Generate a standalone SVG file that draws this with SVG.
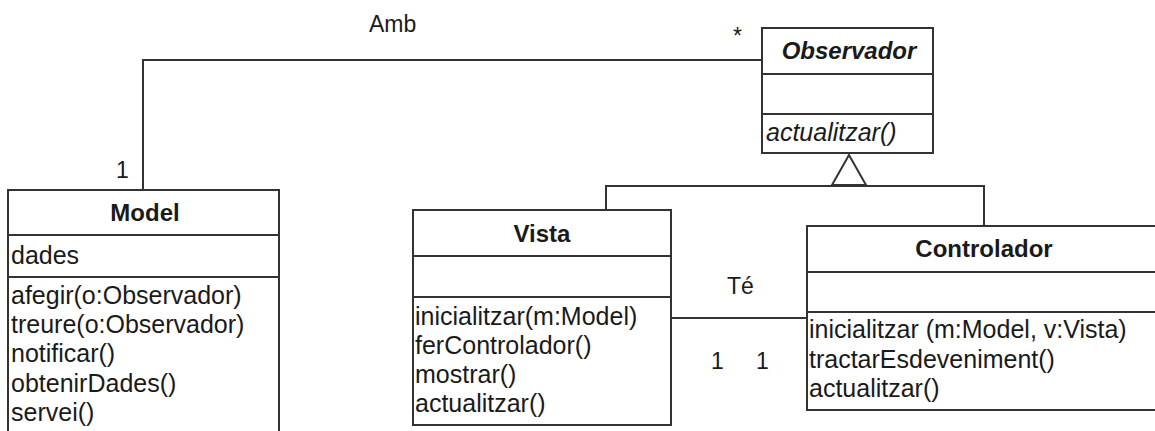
<svg xmlns="http://www.w3.org/2000/svg" width="1155" height="431" viewBox="0 0 1155 431">
<style>
.box{fill:#fff;stroke:#333;stroke-width:2}
.ln{stroke:#333;stroke-width:2;fill:none}
text{font-family:"Liberation Sans",Arial,sans-serif;fill:#1a1a1a;font-size:25px}
.hd{font-weight:bold;text-anchor:middle;font-size:24px}
.it{font-style:italic}
.lbl{font-size:23px}
</style>
<rect width="1155" height="431" fill="#fff"/>
<g id="connectors">
<polyline class="ln" points="143,190 143,60 762,60"/>
<text class="lbl" x="369" y="32">Amb</text>
<text class="lbl" x="733" y="44">*</text>
<text class="lbl" x="116" y="178">1</text>
<line class="ln" x1="671" y1="318" x2="807" y2="318"/>
<text class="lbl" x="727" y="294">Té</text>
<text class="lbl" x="711" y="369">1</text>
<text class="lbl" x="756" y="369">1</text>
<polyline class="ln" points="606,210 606,186 984,186 984,226"/>
<polygon class="box" points="849,155 832,185 866,185"/>
</g>
<g id="observador">
<rect class="box" x="762" y="28" width="171" height="125"/>
<line class="ln" x1="762" y1="74" x2="933" y2="74"/>
<line class="ln" x1="762" y1="114" x2="933" y2="114"/>
<text class="hd it" x="849" y="59">Observador</text>
<text class="it" x="766" y="141">actualitzar()</text>
</g>
<g id="model">
<rect class="box" x="8" y="190" width="271" height="250"/>
<line class="ln" x1="8" y1="235" x2="279" y2="235"/>
<line class="ln" x1="8" y1="277" x2="279" y2="277"/>
<text class="hd" x="145" y="221">Model</text>
<text x="11" y="264">dades</text>
<text x="11" y="304">afegir(o:Observador)</text>
<text x="11" y="333">treure(o:Observador)</text>
<text x="11" y="362">notificar()</text>
<text x="11" y="392">obtenirDades()</text>
<text x="11" y="421">servei()</text>
</g>
<g id="vista">
<rect class="box" x="413" y="210" width="258" height="215"/>
<line class="ln" x1="413" y1="256" x2="671" y2="256"/>
<line class="ln" x1="413" y1="297" x2="671" y2="297"/>
<text class="hd" x="542" y="242">Vista</text>
<text x="415" y="325">inicialitzar(m:Model)</text>
<text x="415" y="354">ferControlador()</text>
<text x="415" y="383">mostrar()</text>
<text x="415" y="412">actualitzar()</text>
</g>
<g id="controlador">
<rect class="box" x="807" y="226" width="360" height="184"/>
<line class="ln" x1="807" y1="272" x2="1160" y2="272"/>
<line class="ln" x1="807" y1="312" x2="1160" y2="312"/>
<text class="hd" x="984" y="257">Controlador</text>
<text x="809" y="338">inicialitzar (m:Model, v:Vista)</text>
<text x="809" y="368">tractarEsdeveniment()</text>
<text x="809" y="397">actualitzar()</text>
</g>
</svg>
